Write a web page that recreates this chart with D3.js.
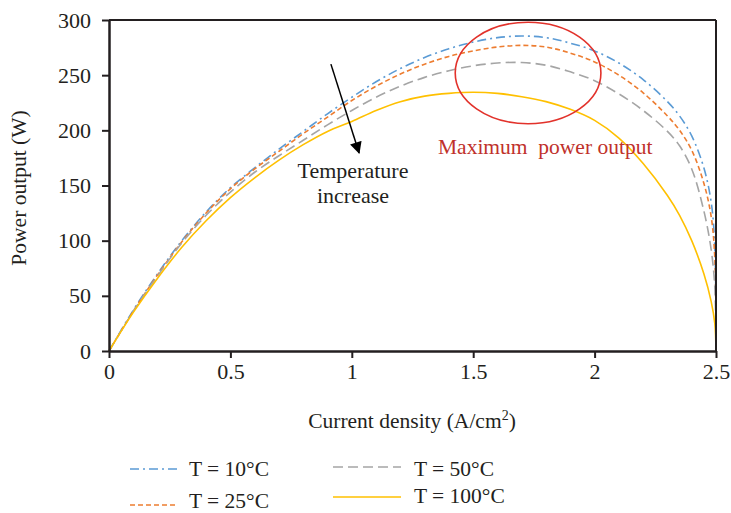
<!DOCTYPE html>
<html>
<head>
<meta charset="utf-8">
<script src="https://cdn.jsdelivr.net/npm/d3@7"></script>
<style>
  body { margin: 0; background: #fff; }
  text { font-family: "Liberation Serif", "Times New Roman", serif; }
</style>
</head>
<body>
<div id="chart"></div>
<script>
// current density (A/cm2)
let currentDensity = [0, 0.1, 0.2, 0.3, 0.4, 0.5, 0.6, 0.7, 0.8, 0.9, 1.0, 1.1, 1.2, 1.3, 1.4, 1.5, 1.6, 1.7, 1.8, 1.9, 2.0, 2.1, 2.2, 2.3, 2.35, 2.4, 2.45, 2.48, 2.495, 2.5];

// power output (W)
let power10 = [0, 37, 70, 100, 126, 148, 166, 183, 199, 215, 230, 244, 256, 266, 274, 280, 284, 285.5, 284, 279, 272, 261, 246, 226, 213, 195, 166, 135, 95, 0];
let power25 = [0, 36, 69, 99, 125, 147, 165, 181, 197, 212, 227, 240, 251, 260, 267, 272, 275.5, 277, 275.5, 270, 262, 250, 234, 213, 200, 182, 152, 122, 85, 0];
let power50 = [0, 36, 68, 98, 123, 144, 162, 177, 191, 205, 218, 230, 240, 248, 254, 258.5, 261, 261.5, 259, 253, 245, 233, 218, 199, 186, 165, 127, 92, 58, 0];
let power100 = [0, 35, 66, 94, 118, 139, 157, 173, 187, 199, 208, 218, 226, 231, 233.5, 234.5, 233.5, 230.5, 226, 219, 209, 193, 170, 141, 123, 100, 70, 45, 25, 0];

let seriesNames = ["T = 10°C", "T = 25°C", "T = 50°C", "T = 100°C"];
let seriesColors = ["#5b9bd5", "#ed7d31", "#a5a5a5", "#ffc000"];
let seriesDash = ["9,4,2,4", "5,3", "10,5", null];

let xTicks = [0, 0.5, 1, 1.5, 2, 2.5];
let yTicks = [0, 50, 100, 150, 200, 250, 300];

let svgWidth = 731;
let svgHeight = 513;

let chartMargin = {
    top: 20,
    right: 15,
    bottom: 162,
    left: 109
};

let chartWidth = svgWidth - chartMargin.left - chartMargin.right;
let chartHeight = svgHeight - chartMargin.top - chartMargin.bottom;

let svg = d3.select("#chart")
    .append("svg")
    .attr("width", svgWidth)
    .attr("height", svgHeight);

let chartGroup = svg.append("g")
    .attr("transform", `translate(${chartMargin.left}, ${chartMargin.top})`);

let xLinearScale = d3.scaleLinear().domain([0, 2.5]).range([0, chartWidth]);
let yLinearScale = d3.scaleLinear().domain([0, 300]).range([chartHeight, 0]);

let allSeries = [power10, power25, power50, power100].map((vals, i) => ({
    name: seriesNames[i],
    color: seriesColors[i],
    dash: seriesDash[i],
    points: vals.map((v, j) => ({ x: currentDensity[j], y: v }))
}));

let line = d3.line()
    .x(d => xLinearScale(d.x))
    .y(d => yLinearScale(d.y))
    .curve(d3.curveCatmullRom.alpha(0.5));

chartGroup.selectAll(".series")
    .data(allSeries)
    .enter()
    .append("path")
    .attr("class", "series")
    .attr("d", d => line(d.points))
    .attr("fill", "none")
    .attr("stroke", d => d.color)
    .attr("stroke-width", 1.6)
    .attr("stroke-dasharray", d => d.dash);

// frame (top and right)
let axisColor = "#231f20";
chartGroup.append("line")
    .attr("x1", 0).attr("x2", chartWidth)
    .attr("y1", 0).attr("y2", 0)
    .attr("stroke", axisColor).attr("stroke-width", 2);
chartGroup.append("line")
    .attr("x1", chartWidth).attr("x2", chartWidth)
    .attr("y1", 0).attr("y2", chartHeight)
    .attr("stroke", axisColor).attr("stroke-width", 2);

let bottomAxis = d3.axisBottom(xLinearScale)
    .tickValues(xTicks)
    .tickFormat(d3.format("~g"))
    .tickSizeInner(7)
    .tickSizeOuter(0)
    .tickPadding(5);
let leftAxis = d3.axisLeft(yLinearScale)
    .tickValues(yTicks)
    .tickSizeInner(7)
    .tickSizeOuter(0)
    .tickPadding(11);

let xaxis = chartGroup.append("g")
    .attr("transform", `translate(0, ${chartHeight})`)
    .call(bottomAxis);
let yaxis = chartGroup.append("g")
    .call(leftAxis);

[xaxis, yaxis].forEach(ax => {
    ax.select(".domain").attr("stroke", axisColor).attr("stroke-width", 2.5);
    ax.selectAll(".tick line").attr("stroke", axisColor).attr("stroke-width", 2);
    ax.selectAll(".tick text")
        .attr("fill", "#231f20")
        .style("font-family", "Liberation Serif")
        .style("font-size", "22px");
});

// axis titles
let xTitle = svg.append("text")
    .attr("x", 412)
    .attr("y", 428)
    .attr("text-anchor", "middle")
    .style("font-size", "21.5px")
    .attr("fill", "#231f20");
xTitle.append("tspan").text("Current density (A/cm");
xTitle.append("tspan").attr("dy", -8).style("font-size", "14px").text("2");
xTitle.append("tspan").attr("dy", 8).text(")");

svg.append("text")
    .attr("transform", "translate(26, 188) rotate(-90)")
    .attr("text-anchor", "middle")
    .style("font-size", "21.5px")
    .attr("fill", "#231f20")
    .text("Power output (W)");

// annotations
chartGroup.append("ellipse")
    .attr("cx", xLinearScale(1.726))
    .attr("cy", yLinearScale(252))
    .attr("rx", xLinearScale(0.3))
    .attr("ry", chartHeight - yLinearScale(46))
    .attr("fill", "none")
    .attr("stroke", "#e2322b")
    .attr("stroke-width", 1.6);

svg.append("defs").append("marker")
    .attr("id", "arrow")
    .attr("viewBox", "0 0 10 10")
    .attr("refX", 9)
    .attr("refY", 5)
    .attr("markerWidth", 13)
    .attr("markerHeight", 12)
    .attr("markerUnits", "userSpaceOnUse")
    .attr("orient", "auto")
    .append("path")
    .attr("d", "M0,0 L10,5 L0,10 Z")
    .attr("fill", "#000");

chartGroup.append("line")
    .attr("x1", xLinearScale(0.914))
    .attr("y1", yLinearScale(260))
    .attr("x2", xLinearScale(1.03))
    .attr("y2", yLinearScale(179.5))
    .attr("stroke", "#000")
    .attr("stroke-width", 1.5)
    .attr("marker-end", "url(#arrow)");

chartGroup.append("text")
    .attr("x", xLinearScale(1.005))
    .attr("y", yLinearScale(157))
    .attr("text-anchor", "middle")
    .style("font-size", "22px")
    .attr("fill", "#231f20")
    .text("Temperature");
chartGroup.append("text")
    .attr("x", xLinearScale(1.005))
    .attr("y", yLinearScale(134))
    .attr("text-anchor", "middle")
    .style("font-size", "22px")
    .attr("fill", "#231f20")
    .text("increase");

chartGroup.append("text")
    .attr("x", xLinearScale(1.355))
    .attr("y", yLinearScale(178.6))
    .style("font-size", "21.5px")
    .attr("fill", "#c0312b")
    .style("white-space", "pre")
    .text("Maximum  power output");

// legend
let legendPos = [
    { x: 130, y: 469, tx: 189, ty: 476 },
    { x: 130, y: 505, tx: 189, ty: 508 },
    { x: 333, y: 467, tx: 414, ty: 476 },
    { x: 333, y: 497, tx: 414, ty: 503 }
];
let legendLen = [47, 47, 68, 68];

let legend = svg.selectAll(".legend")
    .data(allSeries)
    .enter()
    .append("g")
    .attr("class", "legend");

legend.append("line")
    .attr("x1", (d, i) => legendPos[i].x)
    .attr("x2", (d, i) => legendPos[i].x + legendLen[i])
    .attr("y1", (d, i) => legendPos[i].y)
    .attr("y2", (d, i) => legendPos[i].y)
    .attr("stroke", d => d.color)
    .attr("stroke-width", 1.6)
    .attr("stroke-dasharray", d => d.dash);

legend.append("text")
    .attr("x", (d, i) => legendPos[i].tx)
    .attr("y", (d, i) => legendPos[i].ty)
    .style("font-size", "21.5px")
    .attr("fill", "#231f20")
    .text(d => d.name);
</script>
</body>
</html>
